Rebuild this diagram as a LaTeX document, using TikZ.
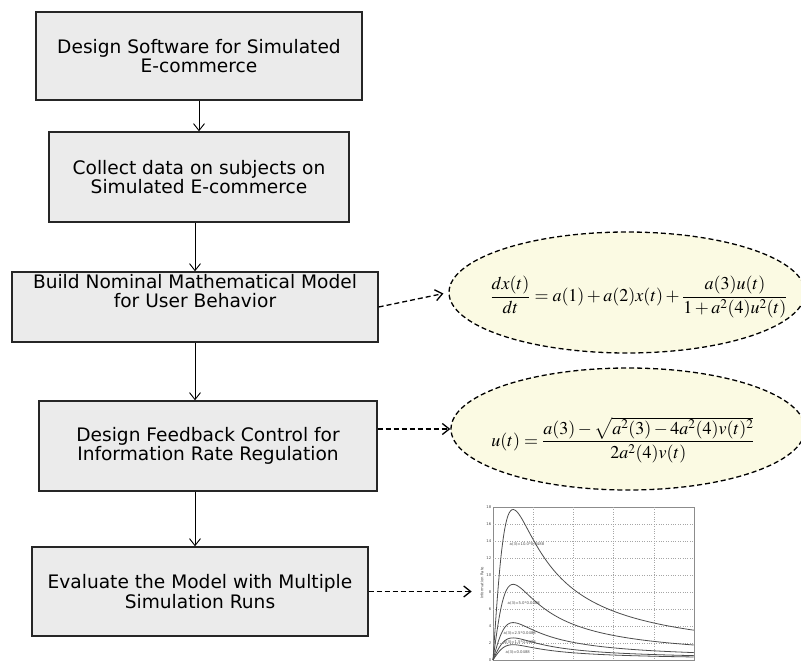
\documentclass[tikz,border=0pt]{standalone}
\usepackage{amsmath}
\usepackage{mathptmx}
\usepackage[no-math]{fontspec}
\setmainfont{DejaVu Sans}
\usetikzlibrary{arrows.meta,calc,shapes.geometric}
\definecolor{boxgray}{RGB}{235,235,235}
\definecolor{eqyellow}{RGB}{251,250,227}
\def\plotfont{\fontsize{3.8}{4}\selectfont}

\begin{document}
\begin{tikzpicture}[x=1pt, y=-1pt,
    stepbox/.style={draw=black!85, line width=1.4pt, fill=boxgray, inner sep=0pt,
      align=center, font=\fontsize{18.6}{19.5}\selectfont},
    flow/.style={-{Straight Barb[length=7pt,width=11pt]}, line width=0.9pt},
    link/.style={-{Straight Barb[length=7pt,width=11pt]}, line width=1.3pt, dash pattern=on 5pt off 3pt},
    eqbubble/.style={ellipse, draw, line width=1.3pt, dash pattern=on 5pt off 3pt, fill=eqyellow, inner sep=0pt},
    eqtext/.style={inner sep=0pt, font=\fontsize{18}{22}\selectfont},
    tiny/.style={inner sep=0.5pt, font=\plotfont, text=black!70}]
  \useasboundingbox (0,0) rectangle (801,663);

  \node[stepbox, minimum width=326, minimum height=88] (b1) at (199,56)
    {Design Software for Simulated\\E-commerce};
  \node[stepbox, minimum width=300, minimum height=90] (b2) at (199,177)
    {Collect data on subjects on\\Simulated E-commerce};
  \node[stepbox, minimum width=366, minimum height=70] (b3) at (195,307) {};
  \node[anchor=north, inner sep=0pt, align=center, font=\fontsize{18.6}{19.5}\selectfont] (t3)
    at ($(b3.north)+(0,2.5)$) {Build Nominal Mathematical Model\\for User Behavior};
  \node[stepbox, minimum width=338, minimum height=90] (b4) at (208,446)
    {Design Feedback Control for\\Information Rate Regulation};
  \node[stepbox, minimum width=336, minimum height=89] (b5) at (200,591.5)
    {Evaluate the Model with Multiple\\Simulation Runs};

  \draw[flow] (b1.south) -- (b1.south |- b2.north);
  \draw[flow] (b2.south -| b3.south) -- (b3.north);
  \draw[flow] (b3.south) -- (b3.south |- b4.north);
  \draw[flow] (b4.south -| b3.south) -- (b5.north -| b3.south);

  \node[eqbubble, minimum width=356, minimum height=121] (e1) at (627,292.5) {};
  \node[eqtext] (q1) at (639,297)
    {$\dfrac{dx(t)}{dt}=a(1)+a(2)x(t)+\dfrac{a(3)u(t)}{1+a^2(4)u^2(t)}$};
  \node[eqbubble, minimum width=354, minimum height=122] (e2) at (628,429) {};
  \node[eqtext] (q2) at (623,440)
    {$u(t)=\dfrac{a(3)-\sqrt{a^2(3)-4a^2(4)v(t)^2}}{2a^2(4)v(t)}$};

  \node[draw=black!45, line width=0.6pt, minimum width=201, minimum height=153, inner sep=0pt] (plot) at (593.5,583.5) {};
  \foreach \i in {1,...,4}
    \draw[black!35, line width=0.4pt, dotted] ({493+40.2*\i},507) -- ({493+40.2*\i},660);
  \foreach \j in {1,...,8}
    \draw[black!35, line width=0.4pt, dotted] (493,{507+17*\j}) -- (694,{507+17*\j});
  \foreach \A in {17.7,8.9,4.4,2.6,1.8}
    \draw[black!70, line width=0.8pt] plot[domain=0:1, samples=120, smooth]
      ({493+201*\x}, {660-8.5*\A*0.2*\x/(\x*\x+0.01)});
  \foreach \v in {0,2,...,18}
    \node[tiny, anchor=east] (ty\v) at (492,{660-8.5*\v}) {\v};
  \node[tiny, rotate=90] (ylab) at (482,583) {Information Rate};
  \node[tiny, anchor=west] (la) at (509,544) {a(3)=10.0*0.0488};
  \node[tiny, anchor=west] (lb) at (507,603) {a(3)=5.0*0.0488};
  \node[tiny, anchor=west] (lc) at (503,633) {a(3)=2.5*0.0488};
  \node[tiny, anchor=west] (ld) at (503,642) {a(3)=1.5*0.0488};
  \node[tiny, anchor=west] (le) at (505,652) {a(3)=0.0488};

  \draw[link, shorten >=5pt] (b3.east) -- (e1.west);
  \draw[link] (b4.east |- e2.west) -- (e2.west);
  \draw[link, shorten >=21pt] (b5.east) -- (plot.west |- b5.east);
\end{tikzpicture}
\end{document}
